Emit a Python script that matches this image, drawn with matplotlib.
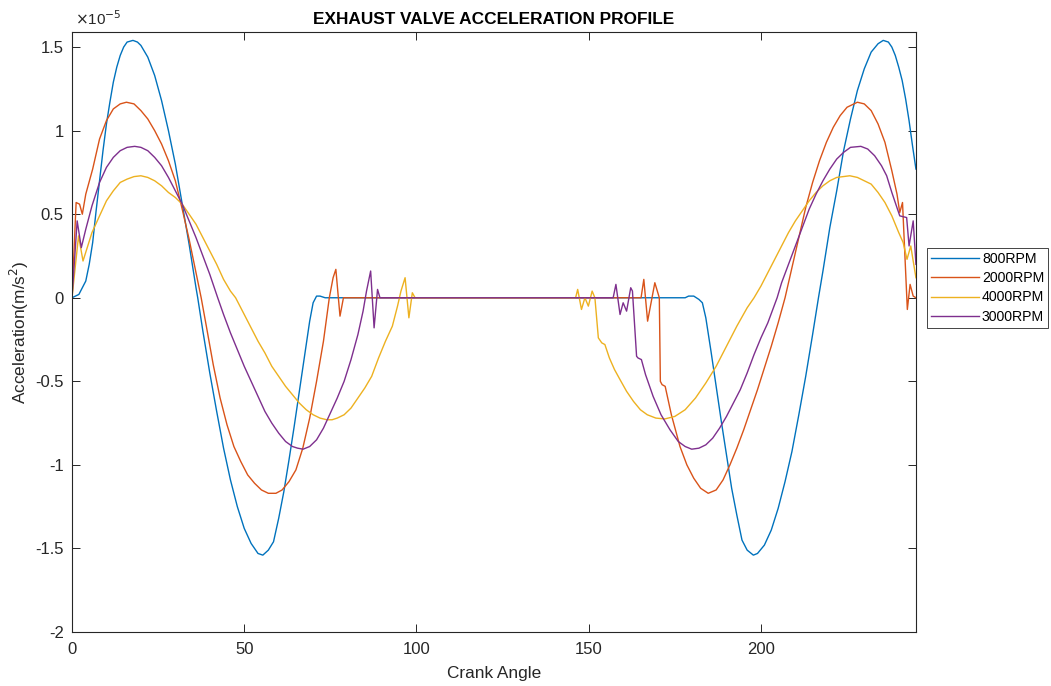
import matplotlib
matplotlib.use("Agg")
import matplotlib.pyplot as plt

plt.rcParams['font.family'] = ['Liberation Sans', 'DejaVu Sans']
plt.rcParams['axes.unicode_minus'] = False

# =========================
# 1. DATA  (acceleration in units of 1e-5 m/s^2)
# =========================
rpm_labels = ["800RPM", "2000RPM", "4000RPM", "3000RPM"]
rpm_colors = ["#0072BD", "#D95319", "#EDB120", "#7E2F8E"]

x_800 = [0, 2, 4, 5, 6, 7, 8, 9, 10, 11, 12, 13, 14, 15, 16, 17.7, 19, 20, 22, 24,
         26, 28, 30, 32, 34, 36, 36.5, 38, 40, 42, 44, 46, 48, 50, 52, 54, 55.4, 57,
         58.5, 60, 61.5, 63, 64.5, 66, 67.5, 69, 70, 71, 72, 73.5, 75,
         176, 178, 179, 180.5, 182, 183, 184, 185.5, 187, 188.5, 190, 191.5, 193,
         194.5, 196, 197.8, 199, 201, 203, 205, 207, 209, 211, 213, 215, 216.7, 218,
         220, 222, 224, 226, 228, 230, 232, 234, 235.5, 237, 238, 239, 240, 241, 242,
         243, 244, 245]
y_800 = [0, 0.02, 0.10, 0.20, 0.33, 0.52, 0.70, 0.88, 1.04, 1.17, 1.29, 1.38, 1.45,
         1.50, 1.53, 1.54, 1.53, 1.51, 1.44, 1.33, 1.18, 1.00, 0.80, 0.56, 0.32, 0.06,
         0.0, -0.20, -0.45, -0.68, -0.90, -1.09, -1.25, -1.38, -1.47, -1.53, -1.54,
         -1.51, -1.46, -1.32, -1.16, -0.97, -0.77, -0.56, -0.35, -0.14, -0.03, 0.01,
         0.01, 0.0, 0.0,
         0.0, 0.0, 0.01, 0.01, -0.01, -0.03, -0.12, -0.32, -0.53, -0.74, -0.94, -1.14,
         -1.30, -1.45, -1.51, -1.54, -1.53, -1.48, -1.39, -1.26, -1.10, -0.92, -0.70,
         -0.47, -0.22, 0.0, 0.16, 0.42, 0.64, 0.88, 1.07, 1.24, 1.37, 1.47, 1.52, 1.54,
         1.53, 1.50, 1.45, 1.38, 1.30, 1.19, 1.06, 0.91, 0.77]

x_2000 = [0, 1.2, 2.2, 3.0, 4, 6, 8, 10, 12, 14, 15.8, 18, 20, 22, 24, 26, 28, 30, 32,
          34, 36, 37.5, 39, 41, 43, 45, 47, 49, 51, 53, 55, 57, 59.2, 61, 63, 65, 67,
          69, 71, 73, 74.7, 75.8, 76.6, 77.8, 78.8, 80,
          163, 165.2, 166.0, 167.1, 169.2, 170.5, 170.8, 171.3, 172.2, 174, 176.5,
          178.5, 180.5, 182.5, 184.7, 187, 189, 191, 193, 195, 197, 199, 201, 203, 205,
          207, 209, 211, 213, 215, 217, 219, 221, 223, 225, 228, 230, 232, 234, 236,
          238, 239.5, 240.3, 241.1, 242.5, 243.3, 244.2, 245]
y_2000 = [0, 0.57, 0.56, 0.50, 0.62, 0.77, 0.95, 1.06, 1.13, 1.16, 1.17, 1.16, 1.12,
          1.07, 1.00, 0.92, 0.82, 0.70, 0.53, 0.35, 0.15, 0.0, -0.17, -0.40, -0.60,
          -0.76, -0.89, -0.98, -1.06, -1.11, -1.15, -1.17, -1.17, -1.15, -1.10, -1.03,
          -0.90, -0.72, -0.50, -0.26, 0.0, 0.12, 0.17, -0.11, 0.0, 0.0,
          0.0, 0.0, 0.11, -0.14, 0.09, 0.0, -0.50, -0.52, -0.53, -0.70, -0.89, -1.00,
          -1.08, -1.14, -1.17, -1.15, -1.09, -1.00, -0.90, -0.79, -0.67, -0.55, -0.42,
          -0.29, -0.15, 0.0, 0.18, 0.36, 0.54, 0.69, 0.82, 0.93, 1.02, 1.09, 1.14, 1.17,
          1.16, 1.12, 1.04, 0.93, 0.76, 0.62, 0.51, 0.57, -0.07, 0.08, 0.01, 0.0]

x_4000 = [0, 1.9, 3.2, 5.8, 8, 10, 12, 14, 16, 18, 20, 22, 24, 26, 28, 30, 32, 34, 36,
          38, 40, 42, 44, 46, 47.5, 50, 52, 54, 56, 58, 60, 62, 64, 66, 68, 70, 72, 74,
          75.5, 77, 79, 81, 83, 85, 87, 89, 91, 93, 94.5, 95.5, 96.7, 97.8, 98.8, 99.6,
          101,
          140, 146.2, 146.8, 147.9, 148.9, 149.9, 151, 151.8, 152.8, 153.8, 154.7, 156,
          157.5, 159.1, 161, 163, 165, 167, 169.5, 172.1, 175, 178, 181, 184, 187, 190,
          193, 196, 198, 200, 202, 204, 206, 208, 210, 212, 214, 216, 218, 220, 222,
          225.8, 228, 230, 232, 234, 236, 238, 240, 241.3, 242.4, 243.5, 244.2, 245]
y_4000 = [0, 0.37, 0.22, 0.39, 0.49, 0.58, 0.64, 0.69, 0.71, 0.725, 0.73, 0.72, 0.70,
          0.67, 0.63, 0.60, 0.56, 0.50, 0.44, 0.36, 0.28, 0.20, 0.11, 0.04, 0.0, -0.10,
          -0.18, -0.26, -0.33, -0.41, -0.47, -0.53, -0.58, -0.63, -0.67, -0.70, -0.72,
          -0.73, -0.73, -0.72, -0.70, -0.66, -0.60, -0.54, -0.47, -0.36, -0.26, -0.17,
          -0.05, 0.04, 0.12, -0.12, 0.03, 0.0, 0.0,
          0.0, 0.0, 0.05, -0.07, 0.0, -0.05, 0.04, 0.0, -0.24, -0.27, -0.28, -0.36,
          -0.43, -0.49, -0.56, -0.62, -0.67, -0.70, -0.72, -0.725, -0.71, -0.67, -0.60,
          -0.51, -0.41, -0.29, -0.17, -0.06, 0.0, 0.07, 0.15, 0.23, 0.31, 0.39, 0.46,
          0.52, 0.58, 0.63, 0.67, 0.70, 0.72, 0.73, 0.72, 0.70, 0.68, 0.63, 0.57, 0.49,
          0.39, 0.33, 0.23, 0.31, 0.22, 0.12]

x_3000 = [0, 1.5, 2.7, 4, 5.8, 8, 10, 12, 14, 16, 18.2, 20, 22, 24, 26, 28, 30, 32, 34,
          36, 38, 40, 42.3, 44, 46, 48, 50, 52, 54, 56, 58, 60, 62, 64, 65.5, 67.1, 69,
          71, 73, 75, 77, 79, 81, 83, 84.5, 85.5, 86.7, 87.7, 88.7, 89.4, 91,
          150, 157.1, 157.9, 159.1, 160, 161, 162.2, 162.7, 163.9, 164.3, 165.3, 166.5,
          168.7, 171, 173.6, 176, 178, 179.9, 182, 184, 186, 188, 190, 192, 194, 196,
          198, 200, 202, 204.7, 206, 208, 210, 212, 214, 216, 218, 220, 222, 224, 226,
          229, 231, 233, 235, 236.5, 238, 240.3, 242.3, 243.0, 244.2, 245]
y_3000 = [0, 0.46, 0.30, 0.41, 0.55, 0.69, 0.78, 0.84, 0.88, 0.90, 0.906, 0.90, 0.88,
          0.84, 0.79, 0.72, 0.64, 0.56, 0.46, 0.36, 0.25, 0.14, 0.0, -0.10, -0.21,
          -0.31, -0.41, -0.50, -0.59, -0.68, -0.75, -0.81, -0.86, -0.89, -0.90, -0.906,
          -0.89, -0.85, -0.78, -0.69, -0.60, -0.50, -0.37, -0.22, -0.08, 0.04, 0.16,
          -0.18, 0.05, 0.0, 0.0,
          0.0, 0.0, 0.08, -0.10, -0.03, -0.08, 0.06, 0.04, -0.35, -0.36, -0.37, -0.46,
          -0.59, -0.70, -0.79, -0.86, -0.89, -0.906, -0.90, -0.88, -0.84, -0.78, -0.71,
          -0.63, -0.55, -0.45, -0.34, -0.24, -0.15, 0.0, 0.09, 0.20, 0.31, 0.42, 0.53,
          0.62, 0.70, 0.77, 0.83, 0.87, 0.90, 0.906, 0.89, 0.85, 0.79, 0.73, 0.63, 0.49,
          0.48, 0.31, 0.46, 0.20]

x_ticks = [0, 50, 100, 150, 200]
y_ticks = [-2, -1.5, -1, -0.5, 0, 0.5, 1, 1.5]

# =========================
# 2. FIGURE
# =========================
fig = plt.figure(figsize=(10.51, 6.86), dpi=100)
ax = fig.add_axes([0.0685, 0.0787, 0.8030, 0.8746])

series = [(x_800, y_800), (x_2000, y_2000), (x_4000, y_4000), (x_3000, y_3000)]
for (xs, ys), lab, col in zip(series, rpm_labels, rpm_colors):
    ax.plot(xs, ys, color=col, lw=1.0, label=lab)

ax.set_xlim(0, 245)
ax.set_ylim(-2, 1.59)
ax.set_xticks(x_ticks)
ax.set_yticks(y_ticks)
ax.set_xticklabels(["%g" % t for t in x_ticks])
ax.set_yticklabels(["%g" % t for t in y_ticks])

dark = "#262626"
for s in ax.spines.values():
    s.set_color(dark)
    s.set_linewidth(0.8)
ax.tick_params(direction="in", length=5.5, width=0.7, colors=dark,
               labelsize=12, top=True, right=True)
ax.tick_params(axis="x", pad=7)
ax.tick_params(axis="y", pad=6)

ax.set_title("EXHAUST VALVE ACCELERATION PROFILE", fontsize=12.4,
             fontweight="bold", color="black", pad=6)
ax.set_xlabel("Crank Angle", fontsize=12.4, color=dark, labelpad=7)
ax.set_ylabel("Acceleration(m/s$^2$)", fontsize=12.4, color=dark)
ax.yaxis.set_label_coords(-0.048, 0.5)
ax.text(0.004, 1.006, r"$\times$10$^{-5}$", transform=ax.transAxes,
        fontsize=11, color=dark, ha="left", va="bottom")

leg = ax.legend(loc="upper left", bbox_to_anchor=(1.0127, 0.64),
                borderaxespad=0, fontsize=10.2, handlelength=3.4,
                handletextpad=0.2, labelspacing=0.36, borderpad=0.3,
                fancybox=False, framealpha=1)
leg.get_frame().set_edgecolor(dark)
leg.get_frame().set_linewidth(0.6)

plt.savefig("out.png", dpi=100)
